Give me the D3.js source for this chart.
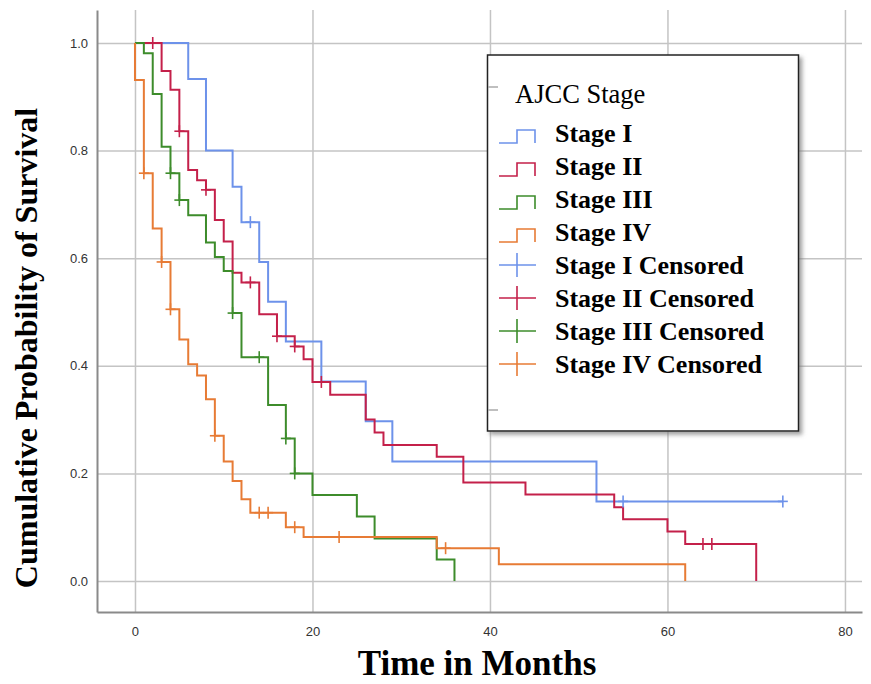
<!DOCTYPE html>
<html>
<head>
<meta charset="utf-8">
<script src="https://cdn.jsdelivr.net/npm/d3@7"></script>
<style>
  body { margin: 0; background: #fff; }
  .tick text { font-family: "Liberation Sans", Arial, sans-serif; font-size: 13px; fill: #333; }
  .grid line { stroke: #c4c4c4; stroke-width: 1.5; }
  .grid path { display: none; }
</style>
</head>
<body>
<div id="chart"></div>
<script>
const stages = ["Stage I", "Stage II", "Stage III", "Stage IV"];
const stageColors = ["#6d92ea", "#c4204a", "#3d8c2b", "#e77b35"];
const xTicks = [0, 20, 40, 60, 80];
const yTicks = [0, 0.2, 0.4, 0.6, 0.8, 1.0];

// [month, survival] change points
const stageI = [[0,1],[6,0.933],[8,0.8],[11,0.733],[12,0.667],[14,0.593],[15,0.519],[17,0.445],[21,0.371],[26,0.297],[29,0.222],[52,0.148],[73,0.148]];
const stageII = [[0,1],[3,0.948],[4,0.913],[5,0.836],[6,0.764],[7,0.745],[8,0.727],[9,0.671],[10,0.631],[11,0.573],[12,0.555],[14,0.496],[16,0.455],[18,0.436],[19,0.412],[20,0.370],[22,0.346],[26,0.30],[27,0.276],[28,0.253],[34,0.231],[37,0.183],[44,0.161],[54,0.137],[55,0.115],[60,0.092],[62,0.069],[70,0]];
const stageIII = [[0,1],[1,0.981],[2,0.905],[3,0.807],[4,0.758],[5,0.708],[6,0.680],[8,0.629],[9,0.602],[10,0.576],[11,0.498],[12,0.416],[15,0.327],[17,0.265],[18,0.2],[20,0.16],[25,0.12],[27,0.079],[34,0.04],[36,0]];
const stageIV = [[0,1],[0,0.931],[1,0.758],[2,0.655],[3,0.593],[4,0.505],[5,0.449],[6,0.403],[7,0.382],[8,0.338],[9,0.27],[10,0.222],[11,0.186],[12,0.152],[13,0.127],[17,0.10],[19,0.082],[34,0.061],[41,0.031],[62,0]];

// censored observations
const censI = [[13,0.667],[55,0.148],[73,0.148]];
const censII = [[2,1],[5,0.836],[8,0.727],[13,0.555],[16,0.455],[18,0.436],[21,0.370],[64,0.069],[65,0.069]];
const censIII = [[4,0.758],[5,0.708],[11,0.498],[14,0.416],[17,0.265],[18,0.2]];
const censIV = [[1,0.758],[3,0.593],[4,0.505],[9,0.27],[14,0.127],[15,0.127],[18,0.10],[23,0.082],[35,0.061]];

const curves = [stageI, stageII, stageIII, stageIV];
const censored = [censI, censII, censIII, censIV];

const width = 871, height = 684;
const m = {left: 97, right: 862, top: 10, bottom: 612};

const svg = d3.select("#chart").append("svg")
    .attr("width", width)
    .attr("height", height);

const defs = svg.append("defs");
defs.append("filter")
    .attr("id", "shadow")
    .attr("x", "-5%").attr("y", "-5%").attr("width", "115%").attr("height", "115%")
    .append("feDropShadow")
    .attr("dx", 3).attr("dy", 3)
    .attr("stdDeviation", 2)
    .attr("flood-color", "#777")
    .attr("flood-opacity", 0.7);

const x = d3.scaleLinear().domain([-4.28, 81.92]).range([m.left, m.right]);
const y = d3.scaleLinear().domain([-0.0576, 1.0613]).range([m.bottom, m.top]);

// grid
svg.append("g")
    .attr("class", "grid")
    .attr("transform", "translate(0," + m.bottom + ")")
    .call(d3.axisBottom(x).tickValues(xTicks).tickSize(-(m.bottom - m.top)).tickFormat(""));
svg.append("g")
    .attr("class", "grid")
    .attr("transform", "translate(" + m.left + ",0)")
    .call(d3.axisLeft(y).tickValues(yTicks).tickSize(-(m.right - m.left)).tickFormat(""));

// axes
const xAxis = svg.append("g")
    .attr("transform", "translate(0," + m.bottom + ")")
    .call(d3.axisBottom(x).tickValues(xTicks).tickSize(0).tickSizeOuter(0).tickPadding(15).tickFormat(d3.format("d")));
const yAxis = svg.append("g")
    .attr("transform", "translate(" + m.left + ",0)")
    .call(d3.axisLeft(y).tickValues(yTicks).tickSize(0).tickSizeOuter(0).tickPadding(9).tickFormat(d3.format(".1f")));
[xAxis, yAxis].forEach(a => a.select(".domain").attr("stroke", "#8a8a8a").attr("stroke-width", 2));

// curves
const line = d3.line()
    .x(d => x(d[0]))
    .y(d => y(d[1]))
    .curve(d3.curveStepAfter);

curves.forEach((c, i) => {
    svg.append("path")
        .datum(c)
        .attr("d", line)
        .attr("fill", "none")
        .attr("stroke", stageColors[i])
        .attr("stroke-width", 2);
});

censored.forEach((c, i) => {
    const g = svg.append("g").attr("stroke", stageColors[i]).attr("stroke-width", 1.6);
    g.selectAll("line.h").data(c).enter().append("line")
        .attr("x1", d => x(d[0]) - 5).attr("x2", d => x(d[0]) + 5)
        .attr("y1", d => y(d[1])).attr("y2", d => y(d[1]));
    g.selectAll("line.v").data(c).enter().append("line")
        .attr("x1", d => x(d[0])).attr("x2", d => x(d[0]))
        .attr("y1", d => y(d[1]) - 6).attr("y2", d => y(d[1]) + 6);
});

// axis titles
svg.append("text")
    .attr("x", 477).attr("y", 675)
    .attr("text-anchor", "middle")
    .style("font-family", "'Liberation Serif', 'Times New Roman', serif")
    .style("font-weight", "bold")
    .style("font-size", "35px")
    .text("Time in Months");

svg.append("text")
    .attr("transform", "translate(37,348) rotate(-90)")
    .attr("text-anchor", "middle")
    .style("font-family", "'Liberation Serif', 'Times New Roman', serif")
    .style("font-weight", "bold")
    .style("font-size", "32px")
    .text("Cumulative Probability of Survival");

// legend
const lg = svg.append("g");
lg.append("rect")
    .attr("x", 487.5).attr("y", 55)
    .attr("width", 311).attr("height", 376)
    .attr("fill", "#fff")
    .attr("stroke", "#222")
    .attr("stroke-width", 1.5)
    .attr("filter", "url(#shadow)");
[87, 410].forEach(v => {
    lg.append("line").attr("x1", 488).attr("x2", 498).attr("y1", v).attr("y2", v)
        .attr("stroke", "#aaa").attr("stroke-width", 1.5);
});
lg.append("text")
    .attr("x", 515).attr("y", 103)
    .style("font-family", "'Liberation Serif', 'Times New Roman', serif")
    .style("font-size", "26.5px")
    .text("AJCC Stage");

const legendItems = stages.map((s, i) => ({label: s, color: stageColors[i], type: "step"}))
    .concat(stages.map((s, i) => ({label: s + " Censored", color: stageColors[i], type: "cens"})));

legendItems.forEach((it, i) => {
    const by = 142 + i * 33;
    if (it.type === "step") {
        lg.append("path")
            .attr("d", "M499," + (by + 1) + "H517V" + (by - 12) + "H535V" + (by + 1))
            .attr("fill", "none").attr("stroke", it.color).attr("stroke-width", 1.6);
    } else {
        lg.append("line").attr("x1", 499).attr("x2", 536).attr("y1", by - 9).attr("y2", by - 9)
            .attr("stroke", it.color).attr("stroke-width", 1.6);
        lg.append("line").attr("x1", 517).attr("x2", 517).attr("y1", by - 21).attr("y2", by + 3)
            .attr("stroke", it.color).attr("stroke-width", 1.6);
    }
    lg.append("text")
        .attr("x", 555).attr("y", by)
        .style("font-family", "'Liberation Serif', 'Times New Roman', serif")
        .style("font-weight", "bold")
        .style("font-size", "26px")
        .text(it.label);
});
</script>
</body>
</html>
